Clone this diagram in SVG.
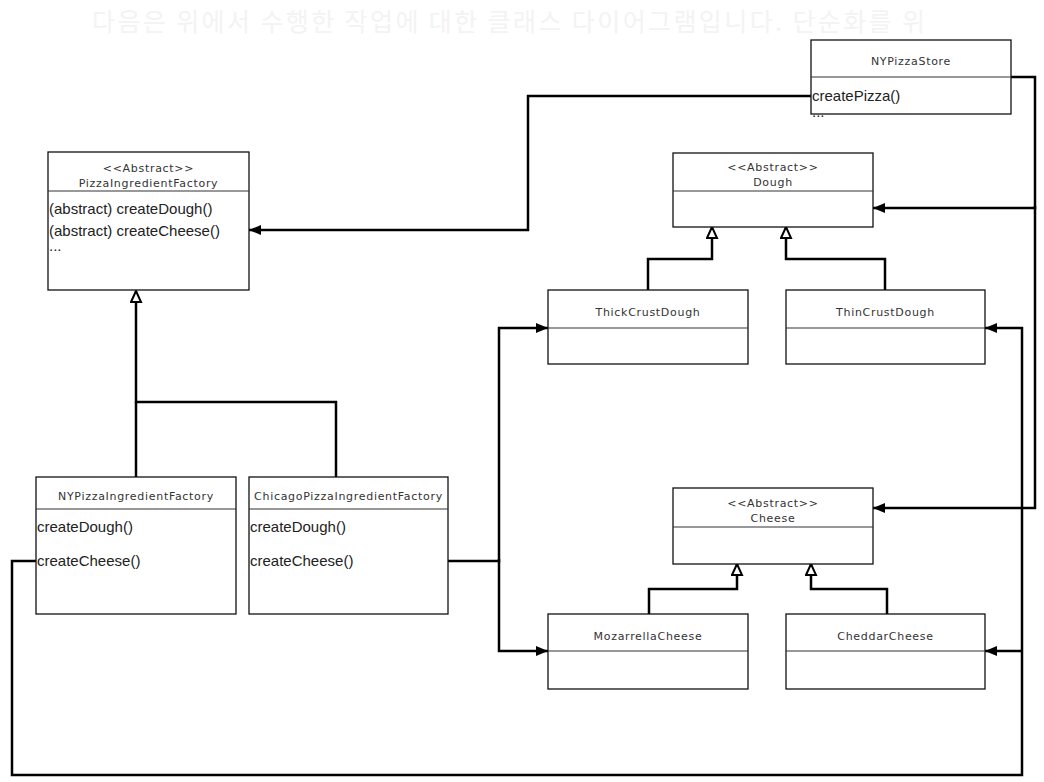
<svg xmlns="http://www.w3.org/2000/svg" width="1044" height="782" viewBox="0 0 1044 782">
<defs>
<marker id="arr" markerUnits="userSpaceOnUse" markerWidth="14" markerHeight="12" refX="12" refY="5" orient="auto" viewBox="0 0 14 12">
<path d="M0,0 L12,5 L0,10 Z" fill="#000"/>
</marker>
<marker id="inh" markerUnits="userSpaceOnUse" markerWidth="14" markerHeight="14" refX="12" refY="6" orient="auto" viewBox="0 0 14 14">
<path d="M1,1 L12,6 L1,11 Z" fill="#fff" stroke="#000" stroke-width="2"/>
</marker>
</defs>
<style>
.box{fill:#fff;stroke:#111;stroke-width:1.3}
.div{stroke:#333;stroke-width:1.2}
.hd{font-family:"DejaVu Sans",Verdana,sans-serif;font-size:11px;letter-spacing:0.7px;fill:#333;text-anchor:middle;dominant-baseline:central}
.it{font-family:"Liberation Sans",Arial,sans-serif;font-size:15px;fill:#222;dominant-baseline:central}
.c{fill:none;stroke:#000;stroke-width:2.5}
.ca{fill:none;stroke:#000;stroke-width:2.5;marker-end:url(#arr)}
.ci{fill:none;stroke:#000;stroke-width:2.5;marker-end:url(#inh)}
</style>
<rect width="1044" height="782" fill="#fff"/>
<text x="92" y="31" font-family="'Noto Sans CJK KR','Noto Sans',sans-serif" font-size="25" fill="#f3f3f3" textLength="833" lengthAdjust="spacing">다음은 위에서 수행한 작업에 대한 클래스 다이어그램입니다. 단순화를 위</text>

<g id="connectors">
<path class="ca" d="M811,96 H528 V230 H249"/>
<path class="ca" d="M1011,77 H1035 V208 H873"/>
<path class="ca" d="M1035,206 V508 H873"/>
<path class="ca" d="M36,561 H12 V775 H1022 V328 H985"/>
<path class="ca" d="M1022,651 H985"/>
<path class="ca" d="M448,561 H499 V328 H548"/>
<path class="ca" d="M499,559 V651 H548"/>
<path class="c" d="M136,477 V402"/>
<path class="ci" d="M336,477 V402 H136 V291"/>
<path class="ci" d="M648,290 V259 H712 V227"/>
<path class="ci" d="M885,290 V259 H786 V227"/>
<path class="ci" d="M649,614 V589 H737 V564"/>
<path class="ci" d="M887,614 V589 H811 V564"/>
</g>

<g id="NYPizzaStore">
<rect class="box" x="811" y="40" width="200" height="74"/>
<line class="div" x1="811" y1="77" x2="1011" y2="77"/>
<text class="hd" x="911" y="61">NYPizzaStore</text>
<text class="it" x="812" y="95">createPizza()</text>
<text class="it" x="812" y="111">...</text>
</g>

<g id="PizzaIngredientFactory">
<rect class="box" x="48" y="152" width="201" height="138"/>
<line class="div" x1="48" y1="191" x2="249" y2="191"/>
<text class="hd" x="148.5" y="168">&lt;&lt;Abstract&gt;&gt;</text>
<text class="hd" x="148.5" y="183">PizzaIngredientFactory</text>
<text class="it" x="49" y="208">(abstract) createDough()</text>
<text class="it" x="49" y="230">(abstract) createCheese()</text>
<text class="it" x="49" y="245">...</text>
</g>

<g id="Dough">
<rect class="box" x="673" y="153" width="200" height="74"/>
<line class="div" x1="673" y1="191" x2="873" y2="191"/>
<text class="hd" x="773" y="167">&lt;&lt;Abstract&gt;&gt;</text>
<text class="hd" x="773" y="182">Dough</text>
</g>

<g id="ThickCrustDough">
<rect class="box" x="548" y="290" width="200" height="74"/>
<line class="div" x1="548" y1="328" x2="748" y2="328"/>
<text class="hd" x="648" y="312">ThickCrustDough</text>
</g>

<g id="ThinCrustDough">
<rect class="box" x="786" y="290" width="199" height="74"/>
<line class="div" x1="786" y1="328" x2="985" y2="328"/>
<text class="hd" x="885.5" y="312">ThinCrustDough</text>
</g>

<g id="Cheese">
<rect class="box" x="673" y="488" width="200" height="76"/>
<line class="div" x1="673" y1="527" x2="873" y2="527"/>
<text class="hd" x="773" y="503">&lt;&lt;Abstract&gt;&gt;</text>
<text class="hd" x="773" y="518">Cheese</text>
</g>

<g id="MozarrellaCheese">
<rect class="box" x="548" y="614" width="200" height="75"/>
<line class="div" x1="548" y1="651" x2="748" y2="651"/>
<text class="hd" x="648" y="636">MozarrellaCheese</text>
</g>

<g id="CheddarCheese">
<rect class="box" x="786" y="614" width="199" height="75"/>
<line class="div" x1="786" y1="651" x2="985" y2="651"/>
<text class="hd" x="885.5" y="636">CheddarCheese</text>
</g>

<g id="NYPizzaIngredientFactory">
<rect class="box" x="36" y="477" width="200" height="137"/>
<line class="div" x1="36" y1="509" x2="236" y2="509"/>
<text class="hd" x="136" y="496">NYPizzaIngredientFactory</text>
<text class="it" x="37" y="526">createDough()</text>
<text class="it" x="37" y="560">createCheese()</text>
</g>

<g id="ChicagoPizzaIngredientFactory">
<rect class="box" x="249" y="477" width="199" height="137"/>
<line class="div" x1="249" y1="509" x2="448" y2="509"/>
<text class="hd" x="348.5" y="496">ChicagoPizzaIngredientFactory</text>
<text class="it" x="250" y="526">createDough()</text>
<text class="it" x="250" y="560">createCheese()</text>
</g>
</svg>
